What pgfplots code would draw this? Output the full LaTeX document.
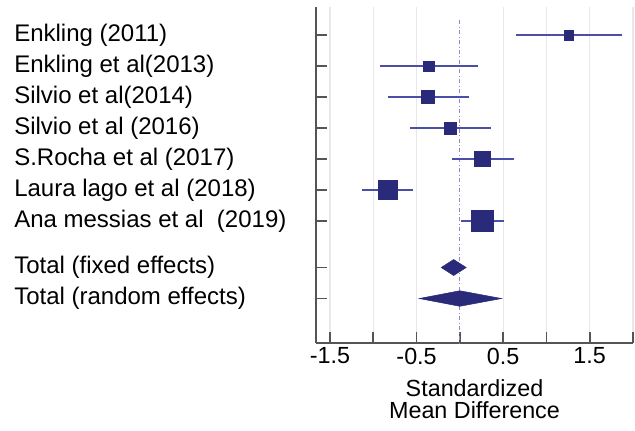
\documentclass[border=0pt]{standalone}
\usepackage{pgfplots}
\usepackage{pgfplotstable}
\pgfplotsset{compat=1.18}
\usepackage{fontspec}
\setmainfont{Liberation Sans}

\definecolor{sqcol}{RGB}{42,42,122}
\definecolor{cicol}{RGB}{75,79,168}
\definecolor{axcol}{RGB}{85,85,85}
\definecolor{zerocol}{RGB}{140,140,205}
\definecolor{gridcol}{RGB}{232,232,236}

% x = SMD, y = row, lo/hi = 95% CI, s = half size of the square (pt)
\pgfplotstableread{
x      y    lo      hi     s
1.26   -1   0.646   1.877  3.6
-0.36  -2  -0.923   0.21   3.9
-0.37  -3  -0.834   0.104  4.8
-0.11  -4  -0.573   0.354  4.5
0.26   -5  -0.096   0.623  5.8
-0.834 -6  -1.127  -0.546  7.1
0.26   -7   0.01    0.515  8.0
}\studies

\begin{document}
\begin{tikzpicture}
\begin{axis}[
  name=ax,
  scale only axis,
  width=237.75pt, height=252pt,
  xmin=-1.662, xmax=2.0,
  ymin=-10.935, ymax=-0.097,
  axis x line*=bottom, axis y line*=left,
  axis line style={axcol, line width=2pt},
  every tick/.style={axcol, line width=1.3pt},
  major tick length=8pt,
  tick align=inside,
  xtick={-1.5,-1,-0.5,0.5,1,1.5,2},
  xticklabels={-1.5,,-0.5,0.5,,1.5,},
  extra x ticks={0},
  extra x tick labels={},
  extra x tick style={grid=none},
  xmajorgrids,
  grid style={gridcol, line width=0.8pt},
  ytick={-1,-2,-3,-4,-5,-6,-7,-8.5,-9.5},
  yticklabels={Enkling (2011), Enkling et al(2013), Silvio et al(2014),
    Silvio et al (2016), S.Rocha et al (2017), Laura lago et al (2018),
    Ana messias et al\ \ (2019), Total (fixed effects), Total (random effects)},
  yticklabel style={anchor=west, xshift=-226.5pt, inner sep=0pt,
    font=\fontsize{18}{20}\selectfont},
  xticklabel style={font=\fontsize{17.5}{19}\selectfont},
  xlabel={Standardized\\Mean Difference},
  xlabel style={align=center, yshift=-5pt, font=\fontsize{17.5}{16.5}\selectfont},
  clip=false,
]
% zero line
\addplot[zerocol, dash dot, line width=0.6pt, forget plot]
  coordinates {(0,-0.52)(0,-10.935)};
% confidence intervals
\addplot[only marks, mark=none, forget plot,
  error bars/.cd, x dir=both, x explicit, error mark=none,
  error bar style={cicol, line width=1.4pt}]
  table[x=x, y=y,
    x error plus expr=\thisrow{hi}-\thisrow{x},
    x error minus expr=\thisrow{x}-\thisrow{lo}] {\studies};
% weighted squares
\addplot[only marks, mark=square*, scatter,
  scatter/use mapped color={draw=sqcol, fill=sqcol},
  mark options={line width=0.4pt},
  visualization depends on={\thisrow{s} \as \msize},
  scatter/@pre marker code/.append style={/tikz/mark size=\msize}]
  table[x=x, y=y] {\studies};
% pooled estimates
\addplot[fill=sqcol, draw=sqcol, line width=0.4pt]
  coordinates {(-0.215,-8.5)(-0.072,-8.242)(0.073,-8.5)(-0.072,-8.758)} -- cycle;
\addplot[fill=sqcol, draw=sqcol, line width=0.4pt]
  coordinates {(-0.469,-9.5)(0.0,-9.25)(0.481,-9.5)(0.0,-9.75)} -- cycle;
\end{axis}
\pgfresetboundingbox
\path[use as bounding box] (ax.south west) ++(-237pt,-65.25pt) rectangle ++(476.25pt,322.5pt);
\end{tikzpicture}
\end{document}
